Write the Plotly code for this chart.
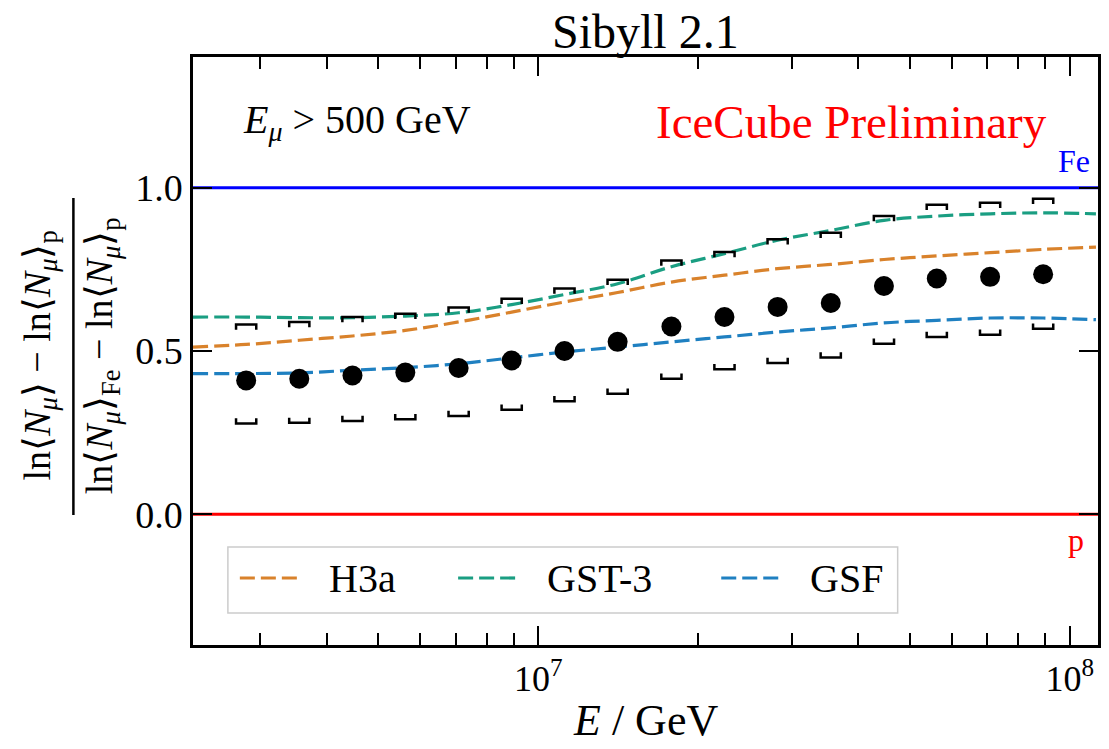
import numpy as np
import plotly.graph_objects as go

# Measured muon-number ratio per energy bin (Sibyll 2.1, E_mu > 500 GeV)
energy_gev = [2.82e6, 3.55e6, 4.47e6, 5.62e6, 7.08e6, 8.91e6, 1.12e7, 1.41e7,
              1.78e7, 2.24e7, 2.82e7, 3.55e7, 4.47e7, 5.62e7, 7.08e7, 8.91e7]
z_value = [0.410, 0.415, 0.425, 0.434, 0.448, 0.471, 0.500, 0.528,
           0.575, 0.604, 0.635, 0.647, 0.699, 0.722, 0.727, 0.735]
sys_upper = [0.581, 0.589, 0.604, 0.614, 0.633, 0.660, 0.691, 0.718,
             0.777, 0.803, 0.842, 0.862, 0.913, 0.948, 0.954, 0.966]
sys_lower = [0.278, 0.280, 0.286, 0.291, 0.301, 0.320, 0.346, 0.369,
             0.415, 0.444, 0.463, 0.480, 0.522, 0.543, 0.550, 0.568]

# Composition-model expectations
model_energy = [2.24e6, 2.82e6, 3.55e6, 4.47e6, 5.62e6, 7.08e6, 8.91e6, 1.12e7, 1.41e7,
                1.78e7, 2.24e7, 2.82e7, 3.55e7, 4.47e7, 5.62e7, 7.08e7, 8.91e7, 1.12e8]
h3a = [0.512, 0.520, 0.533, 0.546, 0.563, 0.589, 0.619, 0.650, 0.679,
       0.711, 0.732, 0.752, 0.765, 0.780, 0.791, 0.801, 0.811, 0.818]
gst3 = [0.604, 0.604, 0.602, 0.602, 0.607, 0.617, 0.642, 0.673, 0.706,
        0.758, 0.798, 0.839, 0.869, 0.900, 0.913, 0.920, 0.923, 0.920]
gsf = [0.431, 0.431, 0.433, 0.441, 0.449, 0.461, 0.479, 0.497, 0.512,
       0.528, 0.543, 0.558, 0.571, 0.586, 0.594, 0.601, 0.601, 0.596]

model_names = ["H3a", "GST-3", "GSF"]
model_values = [h3a, gst3, gsf]
model_colors = ["#d9822b", "#1a9e82", "#1f80c1"]

# Pure-composition reference levels
iron_level = 1.0
proton_level = 0.0

x_tick_vals = [1e7, 1e8]
x_tick_text = ["10<sup>7</sup>", "10<sup>8</sup>"]
y_tick_vals = [0.0, 0.5, 1.0]
y_tick_text = ["0.0", "0.5", "1.0"]

SERIF = "Liberation Serif"
DASH = "15px,6px"

# Figure geometry (pixels)
W, H = 1109, 749
M_L, M_R, M_T, M_B = 193, 8, 57, 104
PW, PH = W - M_L - M_R, H - M_T - M_B


def px(x):
    """Horizontal pixel position -> paper fraction."""
    return (x - M_L) / PW


def py(y):
    """Vertical pixel position (from top) -> paper fraction."""
    return (H - M_B - y) / PH


fig = go.Figure()

for name, vals, color in zip(model_names, model_values, model_colors):
    fig.add_trace(go.Scatter(
        x=model_energy, y=vals, mode="lines", name=name, showlegend=False,
        line=dict(color=color, width=3.2, dash=DASH, shape="spline"),
    ))


def bracket_path(energies, levels, opening):
    """Build bracket-shaped systematic markers ('⊓' for upper, '⊔' for lower)."""
    half = 0.019  # half width in decades
    leg = 0.016 * opening
    xs, ys = [], []
    for e, v in zip(energies, levels):
        xl, xr = e * 10 ** (-half), e * 10 ** half
        xs += [xl, xl, xr, xr, None]
        ys += [v + leg, v, v, v + leg, None]
    return xs, ys


for levels, opening in ((sys_upper, -1), (sys_lower, 1)):
    bx, by = bracket_path(energy_gev, levels, opening)
    fig.add_trace(go.Scatter(x=bx, y=by, mode="lines", showlegend=False,
                             line=dict(color="black", width=2.5), hoverinfo="skip"))

fig.add_trace(go.Scatter(
    x=energy_gev, y=z_value, mode="markers", showlegend=False,
    marker=dict(color="black", size=20, line=dict(width=0)),
))

axis_common = dict(
    showline=True, linecolor="black", linewidth=2.5, mirror="allticks",
    ticks="inside", ticklen=19, tickwidth=2, tickcolor="black",
    showgrid=False, zeroline=False,
)

fig.update_xaxes(
    type="log", range=[np.log10(2.24e6), np.log10(1.13e8)],
    tickvals=x_tick_vals, ticktext=x_tick_text,
    tickfont=dict(family=SERIF, size=36, color="black"),
    minor=dict(ticks="inside", ticklen=12, tickwidth=2, tickcolor="black", dtick="D1", showgrid=False),
    **axis_common,
)
fig.update_yaxes(
    range=[-0.4, 1.4], tickvals=y_tick_vals, ticktext=y_tick_text,
    tickfont=dict(family=SERIF, size=38, color="black"),
    **axis_common,
)

num = "ln⟨<i>N</i><sub><i>μ</i></sub>⟩ − ln⟨<i>N</i><sub><i>μ</i></sub>⟩<sub>p</sub>"
den = "ln⟨<i>N</i><sub><i>μ</i></sub>⟩<sub>Fe</sub> − ln⟨<i>N</i><sub><i>μ</i></sub>⟩<sub>p</sub>"

annotations = [
    dict(text="Sibyll 2.1", x=0.5, y=py(31), xanchor="center", yanchor="middle",
         font=dict(family=SERIF, size=48, color="black")),
    dict(text="<i>E</i> / GeV", x=0.5, y=py(720), xanchor="center", yanchor="middle",
         font=dict(family=SERIF, size=44, color="black")),
    dict(text="<i>E</i><sub><i>μ</i></sub> > 500 GeV", x=px(241), y=py(122), xanchor="left", yanchor="middle",
         font=dict(family=SERIF, size=40, color="black")),
    dict(text="IceCube Preliminary", x=px(1052), y=py(122), xanchor="right", yanchor="middle",
         font=dict(family=SERIF, size=47, color="#ff0000")),
    dict(text="Fe", x=px(1077), y=py(161), xanchor="center", yanchor="middle",
         font=dict(family=SERIF, size=32, color="#0000ff")),
    dict(text="p", x=px(1079), y=py(540), xanchor="center", yanchor="middle",
         font=dict(family=SERIF, size=32, color="#ff0000")),
    dict(text=num, x=px(39), y=py(356), textangle=-90, xanchor="center", yanchor="middle",
         font=dict(family=SERIF, size=38, color="black")),
    dict(text=den, x=px(102), y=py(356), textangle=-90, xanchor="center", yanchor="middle",
         font=dict(family=SERIF, size=38, color="black")),
]

shapes = [
    # iron and proton levels across the full energy range
    dict(type="line", xref="x domain", x0=0, x1=1, yref="y", y0=iron_level, y1=iron_level,
         line=dict(color="#0000ff", width=3), layer="below"),
    dict(type="line", xref="x domain", x0=0, x1=1, yref="y", y0=proton_level, y1=proton_level,
         line=dict(color="#ff0000", width=3), layer="below"),
    # fraction bar of the y-axis label
    dict(type="line", xref="paper", yref="paper", x0=px(73), x1=px(73), y0=py(515), y1=py(198),
         line=dict(color="black", width=2.5)),
    # legend frame
    dict(type="rect", xref="paper", yref="paper", x0=px(228), x1=px(900), y0=py(613), y1=py(547),
         line=dict(color="#cccccc", width=1.5), fillcolor="white", layer="above"),
]

# Legend entries: dashed sample followed by the model name
legend_left = [240, 459, 723]
sample_len, text_gap, legend_y = 62, 25, 578
for name, color, x0 in zip(model_names, model_colors, legend_left):
    shapes.append(dict(type="line", xref="paper", yref="paper",
                       x0=px(x0), x1=px(x0 + sample_len), y0=py(legend_y), y1=py(legend_y),
                       line=dict(color=color, width=3.2, dash=DASH), layer="above"))
    annotations.append(dict(text=name, x=px(x0 + sample_len + text_gap), y=py(legend_y),
                            xanchor="left", yanchor="middle",
                            font=dict(family=SERIF, size=40, color="black")))

for a in annotations:
    a.update(xref="paper", yref="paper", showarrow=False)

fig.update_layout(
    width=W, height=H,
    margin=dict(l=M_L, r=M_R, t=M_T, b=M_B),
    paper_bgcolor="white", plot_bgcolor="white",
    annotations=annotations,
    shapes=shapes,
    showlegend=False,
)

fig.write_html("out.html")
